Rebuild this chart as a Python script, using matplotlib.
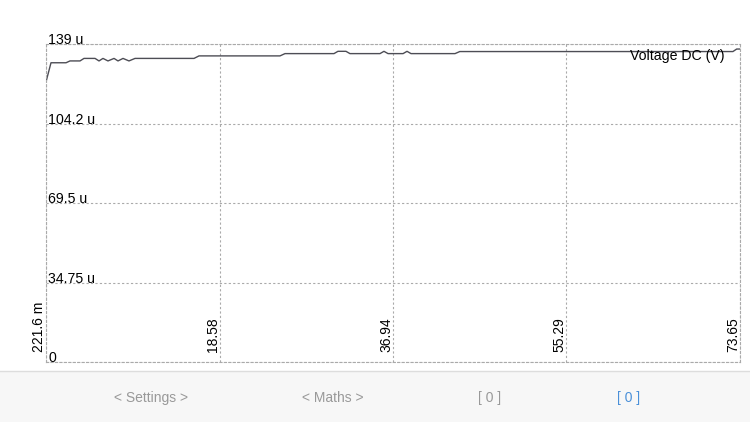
import matplotlib.pyplot as plt
import matplotlib.patches as mpatches

plt.rcParams['font.family'] = ['Liberation Sans', 'DejaVu Sans']

# time (s) and voltage (micro-volts)
t = [0.22, 0.75, 2.34, 2.76, 3.82, 4.24, 5.41, 5.83, 6.25, 6.78, 7.42, 7.84,
     8.37, 9.0, 9.64, 15.88, 16.41, 24.98, 25.51, 30.69, 31.11, 31.96, 32.38,
     35.56, 35.98, 36.41, 38.0, 38.42, 38.84, 43.5, 44.0, 72.9, 73.3, 73.65]
v = [122.4, 130.8, 130.8, 131.6, 131.6, 132.7, 132.7, 131.6, 132.7, 131.6,
     132.7, 131.6, 132.7, 131.6, 132.7, 132.7, 133.8, 133.8, 134.8, 134.8,
     135.8, 135.8, 134.8, 134.8, 135.8, 134.8, 134.8, 135.8, 134.8, 134.8,
     135.7, 135.7, 136.8, 136.8]

x_ticks = [0.2216, 18.58, 36.94, 55.29, 73.65]
x_labels = ['221.6 m', '18.58', '36.94', '55.29', '73.65']
y_ticks = [0, 34.75, 69.5, 104.2, 139]
y_labels = ['0', '34.75 u', '69.5 u', '104.2 u', '139 u']
buttons = ['< Settings >', '< Maths >', '[ 0 ]', '[ 0 ]']
button_x = [151, 333, 490, 629]
button_colors = ['#999999', '#999999', '#999999', '#4a90d9']

W, H = 750, 422
fig = plt.figure(figsize=(7.5, 4.22), dpi=100)

# bottom toolbar
fig.patches.append(mpatches.Rectangle((0, 0), 1, 51 / H, transform=fig.transFigure,
                                      facecolor='#f7f7f7', edgecolor='none'))
fig.add_artist(plt.Line2D([0, 1], [51 / H, 51 / H], color='#dddddd', lw=1))
for lab, bx, c in zip(buttons, button_x, button_colors):
    fig.text(bx / W, (H - 398) / H, lab, color=c, fontsize=10, ha='center', va='center')

ax = fig.add_axes([46 / W, (H - 362) / H, 694 / W, 318 / H])
ax.plot(t, v, color='#4d4d55', lw=1)
ax.set_xlim(x_ticks[0], x_ticks[-1])
ax.set_ylim(0, 139)

ax.set_xticks(x_ticks)
ax.set_yticks(y_ticks)
ax.grid(True, color='#aaaaaa', linestyle=(0, (2, 2)), lw=0.8)
ax.tick_params(length=0, labelbottom=False, labelleft=False)
for s in ax.spines.values():
    s.set_color('#aaaaaa')
    s.set_linestyle((0, (2, 2)))
    s.set_linewidth(0.8)

for yv, lab in zip(y_ticks, y_labels):
    ax.annotate(lab, (0, yv), xycoords=ax.get_yaxis_transform(), xytext=(1.5, -0.3),
                textcoords='offset points', ha='left', va='baseline', fontsize=10.2)

for xv, lab in zip(x_ticks, x_labels):
    ax.annotate(lab, (xv, 0), xycoords=ax.get_xaxis_transform(), xytext=(0, 7),
                textcoords='offset points', ha='right', va='bottom', fontsize=10,
                rotation=90)

ax.text(0.978, 0.984, 'Voltage DC (V)', transform=ax.transAxes, ha='right', va='top',
        fontsize=10.2)

fig.savefig('out.png', dpi=100)
